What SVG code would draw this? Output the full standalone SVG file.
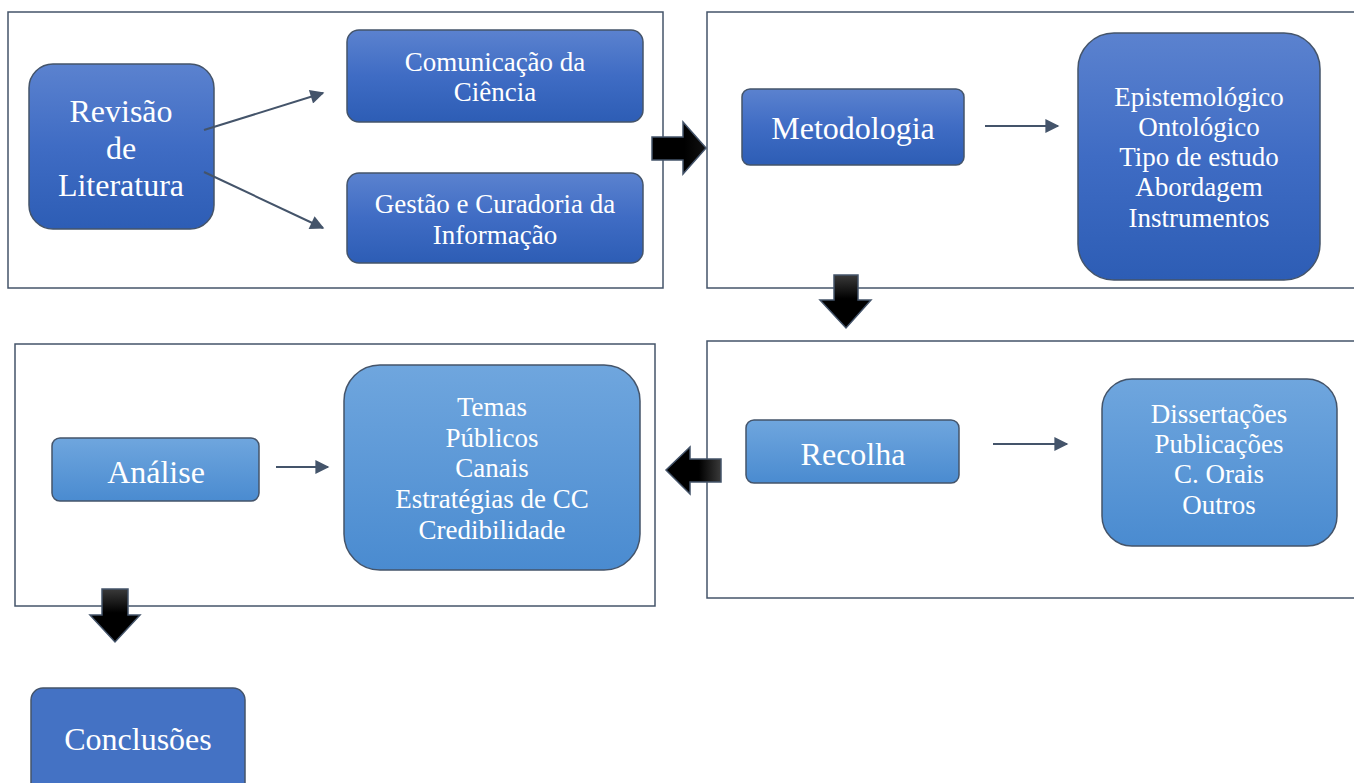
<svg xmlns="http://www.w3.org/2000/svg" width="1354" height="783" viewBox="0 0 1354 783">
<defs>
<linearGradient id="gDark" x1="0" y1="0" x2="0" y2="1"><stop offset="0" stop-color="#5b82cf"/><stop offset="0.5" stop-color="#3f6cc4"/><stop offset="1" stop-color="#2d5db5"/></linearGradient>
<linearGradient id="gLight" x1="0" y1="0" x2="0" y2="1"><stop offset="0" stop-color="#6fa6de"/><stop offset="1" stop-color="#4a8bd0"/></linearGradient>
<linearGradient id="gBlkH" x1="0" y1="0" x2="1" y2="0"><stop offset="0" stop-color="#000"/><stop offset="0.6" stop-color="#000"/><stop offset="1" stop-color="#111"/></linearGradient>
<linearGradient id="gBlkL" x1="1" y1="0" x2="0" y2="0"><stop offset="0" stop-color="#3a3a3a"/><stop offset="0.4" stop-color="#000"/><stop offset="1" stop-color="#000"/></linearGradient>
<linearGradient id="gBlkV" x1="0" y1="0" x2="0" y2="1"><stop offset="0" stop-color="#3a3a3a"/><stop offset="0.45" stop-color="#000"/><stop offset="1" stop-color="#000"/></linearGradient>
<marker id="ah2" viewBox="0 0 10 10" refX="9" refY="5" markerWidth="16" markerHeight="14" markerUnits="userSpaceOnUse" orient="auto"><path d="M0,0 L10,5 L0,10 z" fill="#44546a"/></marker>
</defs>
<style>
.frame{fill:none;stroke:#44546a;stroke-width:1.5}
.nd{fill:url(#gDark);stroke:#44546a;stroke-width:1.5}
.nl{fill:url(#gLight);stroke:#44546a;stroke-width:1.5}
.t{font-family:"Liberation Serif","Times New Roman",serif;fill:#fff;text-anchor:middle}
.big{font-size:32px}
.sm{font-size:27px}
.con{stroke:#44546a;stroke-width:2;fill:none;marker-end:url(#ah2)}
.blk{stroke:#44546a;stroke-width:1.5}
</style>
<rect width="1354" height="783" fill="#fff"/>
<g id="frames">
<rect class="frame" x="8" y="12" width="655" height="276"/>
<rect class="frame" x="707" y="12" width="660" height="276"/>
<rect class="frame" x="15" y="344" width="640" height="262"/>
<rect class="frame" x="707" y="341" width="660" height="257"/>
</g>
<g id="revisao">
<rect class="nd" x="29" y="64" width="185" height="165" rx="24"/>
<text class="t big" x="121" y="122">Revisão</text>
<text class="t big" x="121" y="159">de</text>
<text class="t big" x="121" y="196">Literatura</text>
</g>
<g id="comunicacao">
<rect class="nd" x="347" y="30" width="296" height="92" rx="12"/>
<text class="t sm" x="495" y="71">Comunicação da</text>
<text class="t sm" x="495" y="101">Ciência</text>
</g>
<g id="gestao">
<rect class="nd" x="347" y="173" width="296" height="90" rx="12"/>
<text class="t sm" x="495" y="213">Gestão e Curadoria da</text>
<text class="t sm" x="495" y="244">Informação</text>
</g>
<g id="metodologia">
<rect class="nd" x="742" y="89" width="222" height="76" rx="8"/>
<text class="t big" x="853" y="139">Metodologia</text>
</g>
<g id="epistemo">
<rect class="nd" x="1078" y="33" width="242" height="247" rx="36"/>
<text class="t sm" x="1199" y="106">Epistemológico</text>
<text class="t sm" x="1199" y="136">Ontológico</text>
<text class="t sm" x="1199" y="166">Tipo de estudo</text>
<text class="t sm" x="1199" y="196">Abordagem</text>
<text class="t sm" x="1199" y="227">Instrumentos</text>
</g>
<g id="analise">
<rect class="nl" x="52" y="438" width="207" height="63" rx="8"/>
<text class="t big" x="156" y="483">Análise</text>
</g>
<g id="temas">
<rect class="nl" x="344" y="365" width="296" height="205" rx="36"/>
<text class="t sm" x="492" y="416">Temas</text>
<text class="t sm" x="492" y="447">Públicos</text>
<text class="t sm" x="492" y="477">Canais</text>
<text class="t sm" x="492" y="508">Estratégias de CC</text>
<text class="t sm" x="492" y="539">Credibilidade</text>
</g>
<g id="recolha">
<rect class="nl" x="746" y="420" width="213" height="63" rx="8"/>
<text class="t big" x="853" y="465">Recolha</text>
</g>
<g id="dissertacoes">
<rect class="nl" x="1102" y="379" width="235" height="167" rx="30"/>
<text class="t sm" x="1219" y="423">Dissertações</text>
<text class="t sm" x="1219" y="453">Publicações</text>
<text class="t sm" x="1219" y="483">C. Orais</text>
<text class="t sm" x="1219" y="514">Outros</text>
</g>
<g id="conclusoes">
<rect x="31" y="688" width="214" height="110" rx="12" fill="#4472c4" stroke="#44546a" stroke-width="1.5"/>
<text class="t big" x="138" y="750">Conclusões</text>
</g>
<g id="connectors">
<line class="con" x1="204" y1="130" x2="323" y2="93"/>
<line class="con" x1="204" y1="172" x2="323" y2="228"/>
<line class="con" x1="985" y1="126" x2="1058" y2="126"/>
<line class="con" x1="276" y1="467" x2="328" y2="467"/>
<line class="con" x1="993" y1="444" x2="1067" y2="444"/>
<path class="blk" fill="url(#gBlkH)" d="M652,137 L683,137 L683,122 L706,148 L683,174 L683,160 L652,160 Z"/>
<path class="blk" fill="url(#gBlkV)" d="M834,275 L858,275 L858,300 L871,300 L846,328 L820,300 L834,300 Z"/>
<path class="blk" fill="url(#gBlkL)" d="M721,459 L690,459 L690,447 L666,470 L690,494 L690,482 L721,482 Z"/>
<path class="blk" fill="url(#gBlkV)" d="M102,589 L128,589 L128,615 L140,615 L115,642 L90,615 L102,615 Z"/>
</g>
</svg>
